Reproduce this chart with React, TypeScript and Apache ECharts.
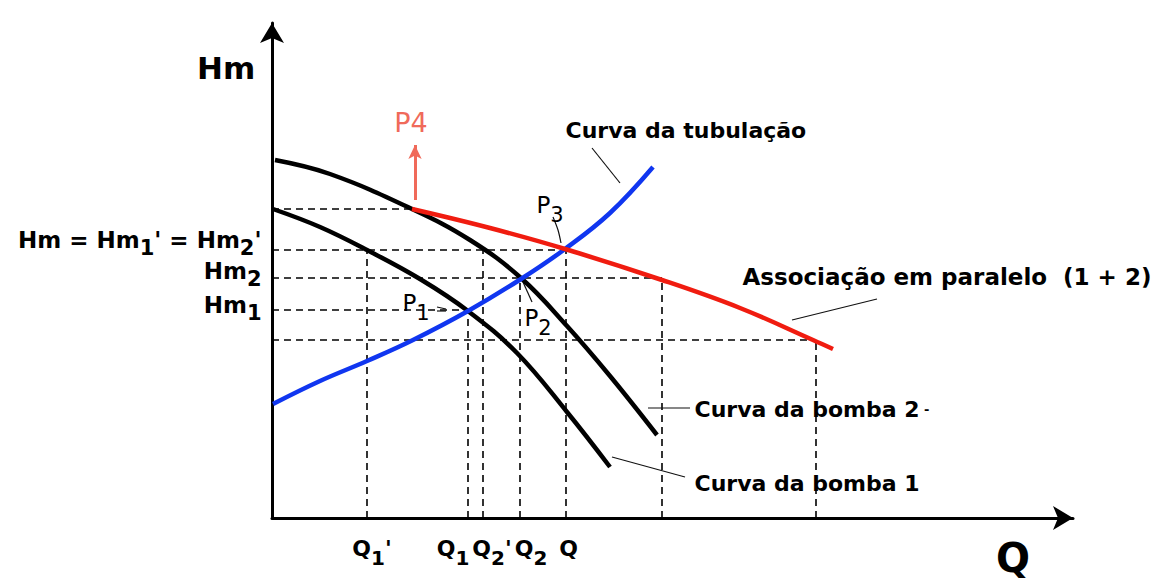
import React, { useEffect, useRef } from "react";
import * as echarts from "echarts";

// ---- Data (x = flow Q, y = head Hm, arbitrary schematic units) ----
const pump2Curve = [[3, 358], [58, 344], [140, 309], [198, 278], [249, 240], [295, 192], [338, 142], [385, 83]];
const pump1Curve = [[1, 309], [48, 291], [95, 268], [148, 239], [196, 207], [245, 165], [295, 106], [338, 51]];
const systemCurve = [[1, 114], [48, 137], [95, 157], [141, 178], [196, 207], [249, 239], [293, 269], [338, 305], [381, 351]];
const parallelCurve = [[140, 309], [218, 290], [293, 269], [390, 238], [468, 210], [541, 178], [561, 169]];

// horizontal guides: [Hm level, Q where it ends]
const hGuides = [[309, 140], [268, 293], [240, 390], [208, 196], [178, 543]];
// vertical guides: [Q value, Hm where it starts]
const vGuides = [[95, 268], [196, 207], [211, 268], [248, 239], [294, 269], [390, 240], [544, 178]];

// tick labels
const qTickLabels = ["{m|Q}{s|1}{m|'}", "{m|Q}{s|1}", "{m|Q}{s|2}{m|'}", "{m|Q}{s|2}", "{m|Q}{s| }"];
const qTickAnchor = [100, 181, 220, 259, 300];
const hmTickLabels = ["{m|Hm = Hm}{s|1}{m|' = Hm}{s|2}{m|'}", "{m|Hm}{s|2}", "{m|Hm}{s|1}"];
const hmTickAnchor = [278, 247, 213];

// annotations
const annotationTexts = ["Curva da tubulação", "{a|Associação em paralelo  (1 + 2)}", "Curva da bomba 2{d| -}", "Curva da bomba 1"];
const annotationAnchor = [[293, 388], [470, 241], [422, 109], [422, 35]];
const pointLabels = ["{m|P}{s|1}", "{m|P}{s|2}", "{m|P}{s|3}"];
const pointAnchor = [[130, 215], [252, 200], [264, 313]];
const leaderLines = [
  [[320, 370], [348, 335]],
  [[281, 301], [286, 288], [289, 275]],
  [[251, 236], [260, 216]],
  [[165, 211], [174, 209]],
  [[165, 207], [174, 207]],
  [[605, 219], [520, 198]],
  [[376, 110], [418, 110]],
  [[340, 61], [413, 41]],
];
const p4Arrow = [[143, 318], [143, 373]];

const FONT = '"DejaVu Sans", sans-serif';

function richFor(fs: number, weight: string, color = "#000", drop = 0.85) {
  return {
    m: { fontSize: fs, fontWeight: weight, fontFamily: FONT, color },
    s: { fontSize: Math.round(fs * 0.92), fontWeight: weight, fontFamily: FONT, color, padding: [Math.round(fs * drop), 0, 0, 0] },
    d: { fontSize: Math.round(fs * 0.6), fontWeight: weight, fontFamily: FONT, color },
    a: { fontSize: 23, fontWeight: weight, fontFamily: FONT, color },
  };
}

export default function App() {
  const ref = useRef<HTMLDivElement>(null);
  useEffect(() => {
    if (!ref.current) return;
    const chart = echarts.init(ref.current, null, { renderer: "svg" });

    const curve = (name: string, data: number[][], color: string, z = 5) => ({
      name,
      type: "line",
      data,
      smooth: 0.4,
      showSymbol: false,
      symbol: "none",
      z,
      lineStyle: { color, width: 4.5 },
    });

    const guideSeries: any[] = [];
    hGuides.forEach(([y, x2]) =>
      guideSeries.push({
        type: "line", data: [[0, y], [x2, y]], symbol: "none", z: 2,
        lineStyle: { color: "#000", width: 1.6, type: [7, 5] },
      })
    );
    vGuides.forEach(([x, y2]) =>
      guideSeries.push({
        type: "line", data: [[x, 0], [x, y2]], symbol: "none", z: 2,
        lineStyle: { color: "#000", width: 1.6, type: [7, 5] },
      })
    );
    const leaderSeries = leaderLines.map((pts) => ({
      type: "line", data: pts, symbol: "none", z: 3, smooth: 0.3,
      lineStyle: { color: "#111", width: 1.2 },
    }));

    const labelBase = { show: true, textBorderWidth: 0, color: "#000", opacity: 1 };
    const hiddenItem = { color: "rgba(0,0,0,0)", opacity: 1 };

    const option: any = {
      animation: false,
      backgroundColor: "#fff",
      grid: { left: 272, top: 23, right: 88, bottom: 68 },
      xAxis: {
        type: "value", min: 0, max: 801,
        axisLine: { show: true, onZero: true, symbol: ["none", "arrow"], symbolSize: [18, 20], lineStyle: { color: "#000", width: 3 } },
        axisTick: { show: false }, axisLabel: { show: false }, splitLine: { show: false },
      },
      yAxis: {
        type: "value", min: 0, max: 495,
        axisLine: { show: true, onZero: true, symbol: ["none", "arrow"], symbolSize: [18, 20], lineStyle: { color: "#000", width: 3 } },
        axisTick: { show: false }, axisLabel: { show: false }, splitLine: { show: false },
      },
      graphic: [
        { type: "text", left: 197, top: 52, style: { text: "Hm", font: `bold 31px ${FONT}`, fill: "#000" } },
        { type: "text", left: 996, top: 538, style: { text: "Q", font: `bold 40px ${FONT}`, fill: "#000" } },
      ],
      series: [
        ...guideSeries,
        ...leaderSeries,
        curve("Curva da bomba 2", pump2Curve, "#000"),
        curve("Curva da bomba 1", pump1Curve, "#000"),
        curve("Curva da tubulação", systemCurve, "#1036f0", 6),
        curve("Associação em paralelo (1 + 2)", parallelCurve, "#f01c10", 6),
        {
          type: "line", data: [], symbol: "none",
          markLine: {
            silent: true, symbol: ["none", "arrow"], symbolSize: [10, 14],
            label: { show: false },
            lineStyle: { color: "#f06a5a", width: 3, type: "solid" },
            data: [[{ coord: p4Arrow[0] }, { coord: p4Arrow[1] }]],
          },
        },
        {
          type: "scatter", symbolSize: 1, itemStyle: hiddenItem, z: 10, clip: false,
          data: [{ value: [139, 396] }],
          label: { ...labelBase, position: "inside", formatter: "P4", color: "#f06a5a", fontSize: 27, fontFamily: FONT },
        },
        {
          type: "scatter", symbolSize: 1, itemStyle: hiddenItem, z: 10, clip: false,
          data: qTickAnchor.map((x, i) => ({ value: [x, 0], label: { formatter: qTickLabels[i] } })),
          label: { ...labelBase, position: "bottom", distance: 10, rich: richFor(22, "bold") },
        },
        {
          type: "scatter", symbolSize: 1, itemStyle: hiddenItem, z: 10, clip: false,
          data: hmTickAnchor.map((y, i) => ({ value: [0, y], label: { formatter: hmTickLabels[i] } })),
          label: { ...labelBase, position: "left", distance: 10, rich: richFor(23, "bold", "#000", 0.7) },
        },
        {
          type: "scatter", symbolSize: 1, itemStyle: hiddenItem, z: 10, clip: false,
          data: annotationAnchor.map((p, i) => ({ value: p, label: { formatter: annotationTexts[i] } })),
          label: { ...labelBase, position: "right", distance: 0, fontSize: 22, fontWeight: "bold", fontFamily: FONT, rich: richFor(22, "bold") },
        },
        {
          type: "scatter", symbolSize: 1, itemStyle: hiddenItem, z: 10, clip: false,
          data: pointAnchor.map((p, i) => ({ value: p, label: { formatter: pointLabels[i] } })),
          label: { ...labelBase, position: "right", distance: 0, rich: richFor(23, "normal") },
        },
      ],
    };
    chart.setOption(option);
    return () => chart.dispose();
  }, []);
  return <div ref={ref} style={{ position: "absolute", left: 0, top: 0, width: 1161, height: 586, background: "#fff" }} />;
}
